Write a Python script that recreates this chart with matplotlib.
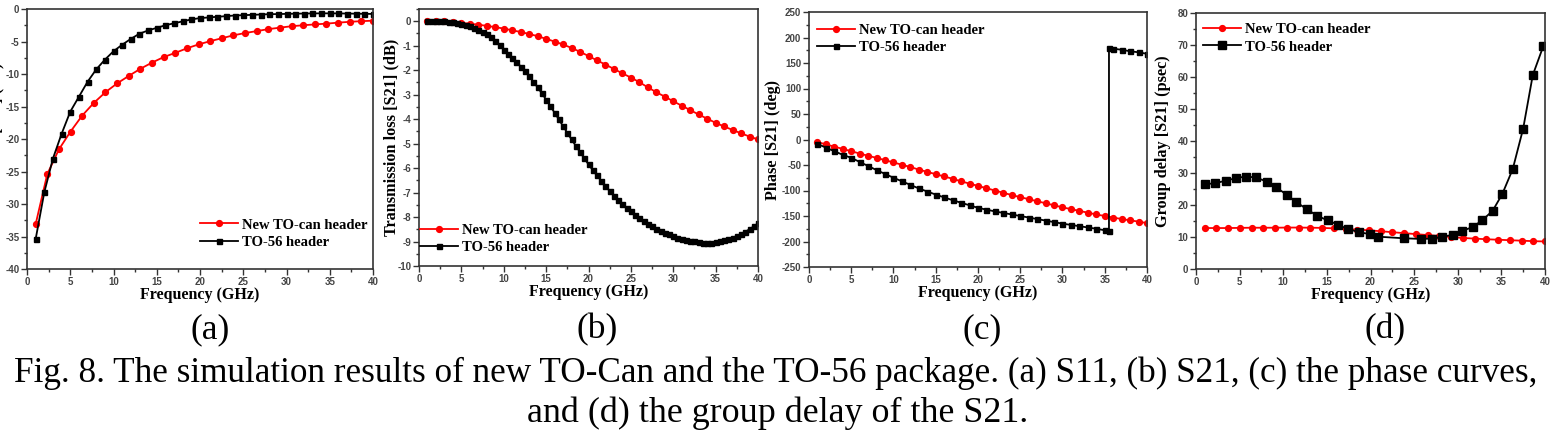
import numpy as np
import matplotlib
matplotlib.use("Agg")
import matplotlib.pyplot as plt
from matplotlib.ticker import MultipleLocator

plt.rcParams['axes.unicode_minus'] = False

# ---- data ----
freq_int = np.arange(1, 41)            # 1..40 GHz, 1 GHz step
freq_30 = np.linspace(1, 40, 30)       # 30-point sweep
freq_half = np.arange(1, 40.01, 0.5)   # 0.5 GHz step

# (a) S11
s11_new = [-33.1, -25.4, -21.6, -18.85, -16.4, -14.45, -12.8, -11.45, -10.3, -9.2,
           -8.25, -7.4, -6.75, -6.05, -5.45, -4.95, -4.5, -4.05, -3.7, -3.4,
           -3.1, -2.87, -2.65, -2.5, -2.37, -2.25, -2.1, -1.97, -1.87, -1.8]
s11_to56 = [-35.4, -28.2, -23.0, -19.2, -15.8, -13.5, -11.2, -9.3, -7.8, -6.5,
            -5.5, -4.6, -3.8, -3.3, -2.9, -2.5, -2.2, -1.9, -1.6, -1.4,
            -1.3, -1.2, -1.1, -1.0, -0.95, -0.9, -0.85, -0.8, -0.78, -0.75,
            -0.72, -0.7, -0.68, -0.67, -0.67, -0.68, -0.7, -0.72, -0.74, -0.76]

# (b) S21
s21_new = [0, 0, -0.01, -0.03, -0.07, -0.1, -0.14, -0.19, -0.24, -0.3,
           -0.37, -0.44, -0.52, -0.61, -0.72, -0.83, -0.95, -1.09, -1.25, -1.42,
           -1.6, -1.77, -1.95, -2.13, -2.3, -2.49, -2.7, -2.9, -3.08, -3.27,
           -3.45, -3.63, -3.81, -3.98, -4.15, -4.3, -4.44, -4.58, -4.71, -4.83]
s21_to56 = [0, 0, 0, -0.01, -0.01, -0.02, -0.04, -0.07, -0.12, -0.16,
            -0.21, -0.27, -0.34, -0.42, -0.53, -0.66, -0.82, -0.98, -1.16, -1.33,
            -1.5, -1.67, -1.85, -2.04, -2.25, -2.47, -2.7, -2.95, -3.2, -3.47,
            -3.74, -4.01, -4.29, -4.56, -4.83, -5.09, -5.35, -5.6, -5.85, -6.08,
            -6.3, -6.52, -6.73, -6.94, -7.13, -7.3, -7.46, -7.62, -7.76, -7.9,
            -8.03, -8.15, -8.27, -8.37, -8.47, -8.56, -8.64, -8.71, -8.78, -8.84,
            -8.89, -8.93, -8.96, -8.99, -9.02, -9.04, -9.05, -9.04, -9.02, -8.98,
            -8.94, -8.9, -8.84, -8.78, -8.7, -8.6, -8.5, -8.38, -8.26]

# (c) phase of S21
phase_new = [-5, -9.5, -14, -18.5, -23, -27.5, -32, -36, -40.5, -45,
             -49.5, -54, -59, -63.5, -68, -72.5, -77, -82, -86.5, -91,
             -95.5, -100, -104.5, -109, -113, -117, -121, -125, -129, -133,
             -136.5, -140, -143.5, -147, -150, -153, -156, -158.5, -161, -164]
phase_to56_f = [1, 2, 3, 4, 5, 6, 7, 8, 9, 10, 11, 12, 13, 14, 15, 16, 17, 18, 19, 20,
                21, 22, 23, 24, 25, 26, 27, 28, 29, 30, 31, 32, 33, 34, 35, 35.5,
                35.5, 36, 37, 38, 39, 40]
phase_to56 = [-8.5, -16, -23, -30, -36, -44, -52, -60, -67.5, -75,
              -82, -89, -96, -102, -108, -113.5, -119, -124, -129, -134,
              -137.5, -141, -144, -147, -150, -153, -156, -159, -162, -165,
              -167.5, -170, -172.5, -175, -178, -180,
              179, 178, 176, 173, 171, 168]

# (d) group delay
gd_new = [12.8, 12.8, 12.8, 12.85, 12.9, 12.9, 12.9, 12.95, 12.95, 12.9,
          12.85, 12.7, 12.5, 12.3, 12.1, 11.8, 11.5, 11.2, 10.9, 10.6,
          10.3, 10.0, 9.7, 9.5, 9.3, 9.15, 9.0, 8.85, 8.7, 8.6]
gd_to56_f = [1.0, 2.2, 3.4, 4.6, 5.7, 6.9, 8.1, 9.2, 10.4, 11.5, 12.7, 13.9, 15.1,
             16.3, 17.4, 18.7, 19.9, 20.9, 23.8, 25.8, 27.0, 28.2, 29.4, 30.5,
             31.7, 32.8, 34.0, 35.1, 36.3, 37.5, 38.6, 39.8]
gd_to56 = [26.5, 26.8, 27.6, 28.4, 28.9, 28.6, 27.3, 25.5, 23.2, 20.9, 18.7, 16.6,
           15.2, 13.8, 12.5, 11.5, 10.9, 10.1, 9.6, 9.4, 9.5, 10.0, 10.7, 11.9,
           13.1, 15.2, 18.2, 23.4, 31.2, 43.9, 60.6, 69.6]

W, H = 1551, 434
fig = plt.figure(figsize=(W / 100, H / 100), dpi=100)


def frac(l, r, t, b):
    return [l / W, (H - b) / H, (r - l) / W, (b - t) / H]


serif_b = dict(family='Liberation Serif', weight='bold')
RED = '#ff0000'


def style_axes(ax, ylim, ymaj, ymin, ylabel, ylab_x):
    ax.set_xlim(0, 40)
    ax.set_ylim(*ylim)
    ax.xaxis.set_major_locator(MultipleLocator(5))
    ax.xaxis.set_minor_locator(MultipleLocator(2.5))
    ax.yaxis.set_major_locator(MultipleLocator(ymaj))
    ax.yaxis.set_minor_locator(MultipleLocator(ymin))
    ax.tick_params(which='both', direction='out', top=False, right=False,
                   color='#333333', width=1.0)
    ax.tick_params(which='major', length=4, pad=1.5, labelsize=7, labelcolor='#444444')
    ax.tick_params(which='minor', length=2)
    for lab in ax.get_xticklabels() + ax.get_yticklabels():
        lab.set_family('Liberation Sans')
        lab.set_weight('bold')
    for sp in ax.spines.values():
        sp.set_linewidth(1.2)
        sp.set_color('#333333')
    ax.set_xlabel('Frequency (GHz)', fontsize=11.5, labelpad=0, **serif_b)
    ax.set_ylabel(ylabel, fontsize=11.7, **serif_b)
    ax.yaxis.set_label_coords(ylab_x, 0.5)


def add_legend(ax, anchor):
    leg = ax.legend(loc='upper left', bbox_to_anchor=anchor, frameon=False,
                    borderpad=0, borderaxespad=0, handlelength=2.6,
                    handletextpad=0.25, labelspacing=0.3,
                    prop=dict(family='Liberation Serif', weight='bold', size=10.5))
    return leg


ms_c, ms_s = 4.2, 3.6

# (a)
ax = fig.add_axes(frac(27, 373, 9, 269))
ax.plot(freq_30, s11_new, '-o', color=RED, lw=1.3, ms=ms_c, label='New TO-can header')
ax.plot(freq_int, s11_to56, '-s', color='black', lw=1.3, ms=ms_s, label='TO-56 header')
style_axes(ax, (-40, 0), 5, 2.5, 'Return loss [S11] (dB)', -0.066)
add_legend(ax, (0.5, 0.195))

# (b)
ax = fig.add_axes(frac(419, 758, 9, 266))
ax.plot(freq_int, s21_new, '-o', color=RED, lw=1.3, ms=ms_c, label='New TO-can header')
ax.plot(freq_half, s21_to56, '-s', color='black', lw=1.3, ms=ms_s, label='TO-56 header')
style_axes(ax, (-10, 0.5), 1, 0.5, 'Transmission loss [S21] (dB)', -0.059)
add_legend(ax, (0.003, 0.165))

# (c)
ax = fig.add_axes(frac(809, 1147, 12, 267))
ax.plot(freq_int, phase_new, '-o', color=RED, lw=1.3, ms=ms_c, label='New TO-can header')
ax.plot(phase_to56_f, phase_to56, '-s', color='black', lw=1.3, ms=ms_s, label='TO-56 header')
style_axes(ax, (-250, 250), 50, 25, 'Phase [S21] (deg)', -0.083)
add_legend(ax, (0.024, 0.955))

# (d)
ax = fig.add_axes(frac(1196, 1545, 13, 269))
ax.plot(freq_30, gd_new, '-o', color=RED, lw=1.3, ms=ms_c, label='New TO-can header')
ax.plot(gd_to56_f, gd_to56, '-s', color='black', lw=1.3, ms=5.2, label='TO-56 header')
style_axes(ax, (0, 80), 10, 5, 'Group delay [S21] (psec)', -0.072)
add_legend(ax, (0.02, 0.962))

# sub-figure labels and caption
for x, lab in [(210, '(a)'), (597, '(b)'), (982, '(c)'), (1385, '(d)')]:
    fig.text(x / W, 1 - 338 / H, lab, ha='center', va='baseline',
             family='Liberation Serif', fontsize=25.5)
fig.text(W / 2 / W, 1 - 382 / H,
         'Fig. 8. The simulation results of new TO-Can and the TO-56 package. '
         '(a) S11, (b) S21, (c) the phase curves,',
         ha='center', va='baseline', family='Liberation Serif', fontsize=25.3)
fig.text(778 / W, 1 - 422 / H, 'and (d) the group delay of the S21.',
         ha='center', va='baseline', family='Liberation Serif', fontsize=25.9)

fig.savefig('out.png', dpi=100)
